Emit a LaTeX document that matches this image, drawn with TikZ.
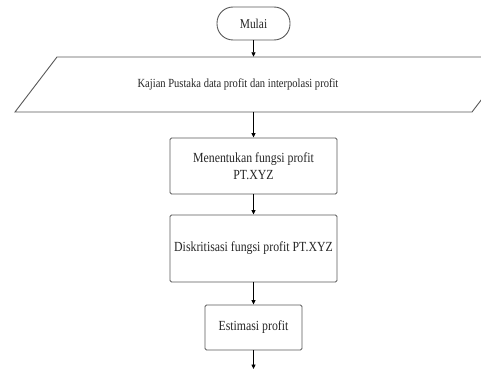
\documentclass[tikz,border=0pt]{standalone}
\usepackage{fontspec}
\setmainfont{Liberation Serif}[FakeStretch=0.85]
\usetikzlibrary{arrows.meta}

\begin{document}
\begin{tikzpicture}[x=1pt, y=-1pt,
    prosesbox/.style={draw=black!65, line width=0.9pt, rounded corners=1.5pt, fill=white, align=center, text=black!85, font=\fontsize{13.9}{17}\selectfont},
    terminal/.style={draw=black!65, line width=0.9pt, rounded corners=16pt, minimum width=73pt, minimum height=33pt, text=black!85, font=\fontsize{13.5}{15}\selectfont},
    alir/.style={-{Triangle[length=4.5pt, width=4pt]}, line width=0.8pt}]
    \clip (0,0) rectangle (481,369);
    \fill[white] (0,0) rectangle (481,369);

    \node [terminal] (mulai) at (253.5,23.5) {Mulai};

    % parallelogram input
    \draw [draw=black!65, line width=0.9pt] (57,57) -- (514,57) -- (472,112) -- (15,112) -- cycle;
    \node [minimum height=55pt, inner sep=0pt, text=black!85, font=\fontsize{12.4}{14}\selectfont] (kajian) at (238,84.5) {Kajian Pustaka data profit dan interpolasi profit};

    \node [prosesbox, minimum width=167pt, minimum height=56pt] (fungsi) at (253.5,166) {Menentukan fungsi profit\\PT.XYZ};
    \node [prosesbox, minimum width=167pt, minimum height=67pt] (diskrit) at (253.5,248.5) {Diskritisasi fungsi profit PT.XYZ};
    \node [prosesbox, minimum width=97pt, minimum height=45pt] (estimasi) at (253.5,327.5) {Estimasi profit};
    \coordinate (lanjut) at (253.5,369);

    \draw [alir] (mulai) -- (mulai |- kajian.north);
    \draw [alir] (mulai |- kajian.south) -- (fungsi);
    \draw [alir] (fungsi) -- (diskrit);
    \draw [alir] (diskrit) -- (estimasi);
    \draw [alir] (estimasi) -- (lanjut);
\end{tikzpicture}
\end{document}
